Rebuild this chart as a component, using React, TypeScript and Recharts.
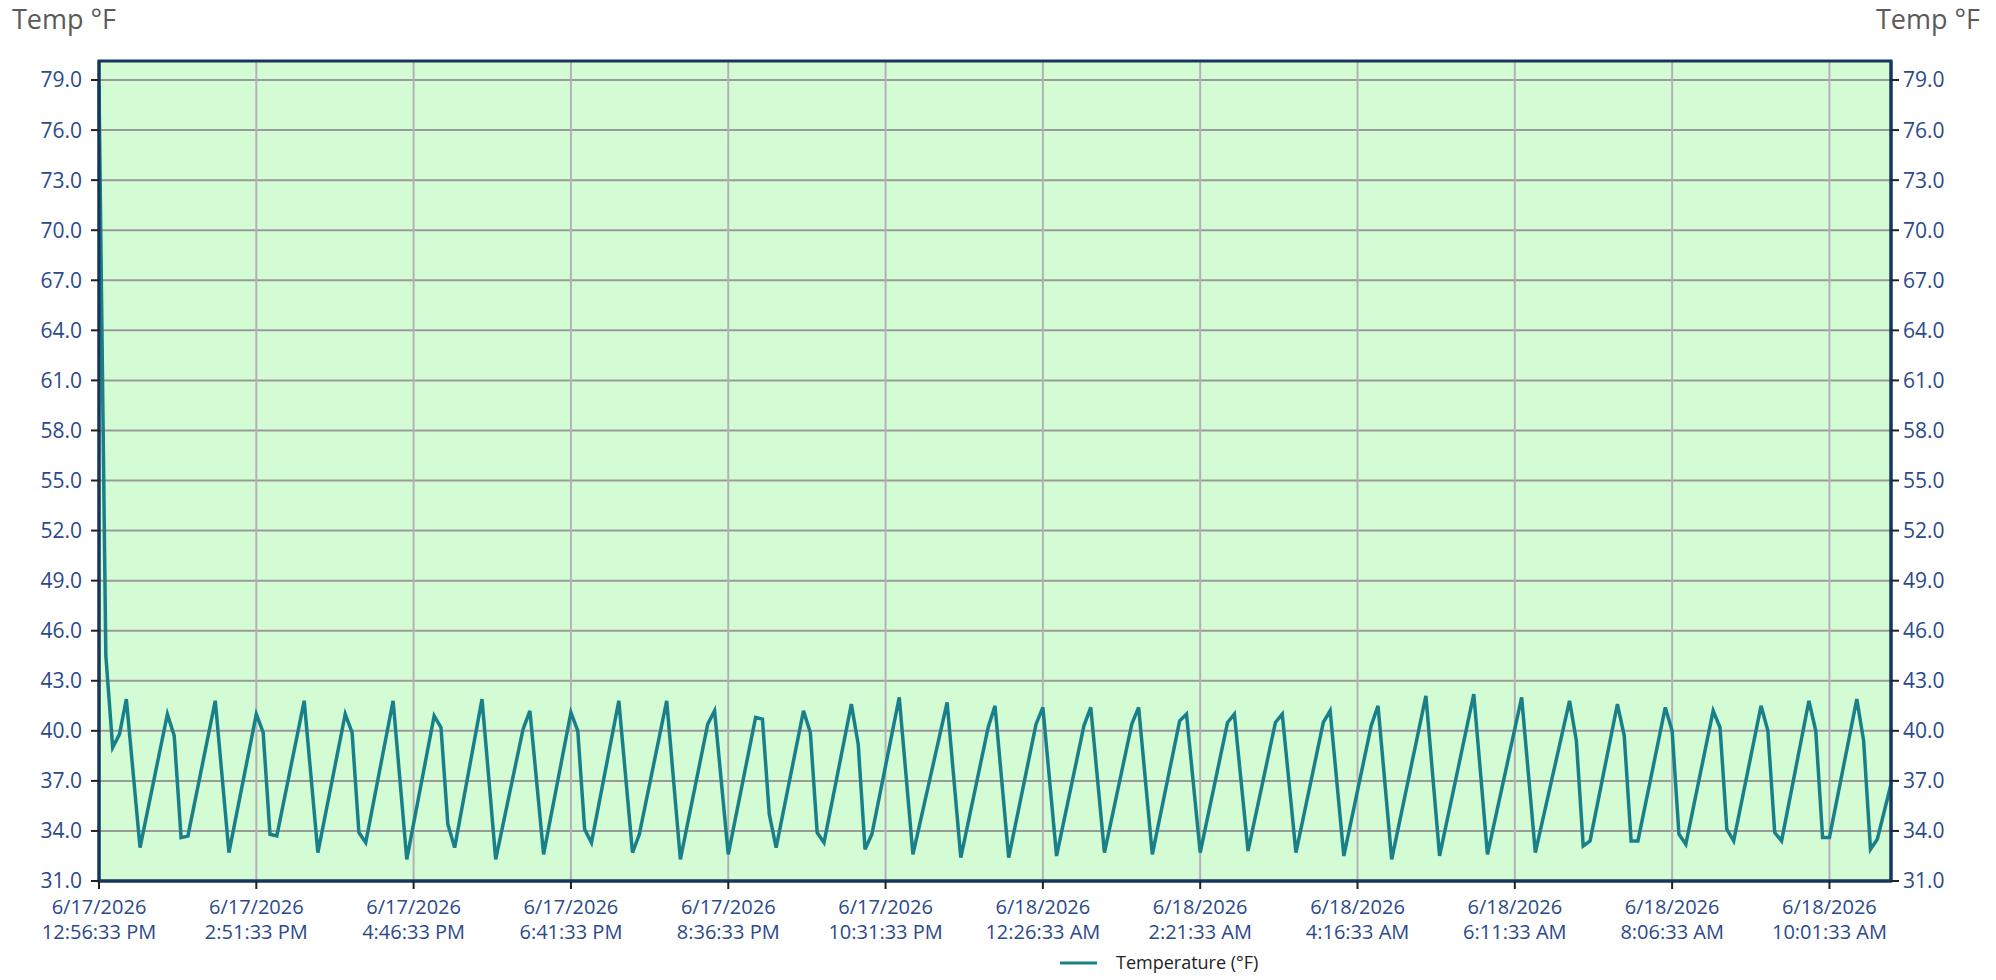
import React from "react";
import {
  LineChart,
  Line,
  XAxis,
  YAxis,
  CartesianGrid,
  ReferenceArea,
  Legend,
} from "recharts";

// minutes after 6/17/2026 12:56:33 PM, read at the line's corners
const minutes = [
  0, 5, 10, 15, 20, 30, 50, 55, 60, 65, 85, 95, 115, 120, 125, 130, 150, 160,
  180, 185, 190, 195, 215, 225, 245, 250, 255, 260, 280, 290, 310, 315, 325,
  345, 350, 355, 360, 380, 390, 395, 415, 425, 445, 450, 460, 480, 485, 490,
  495, 515, 520, 525, 530, 550, 555, 560, 565, 585, 595, 620, 630, 650, 655,
  665, 685, 690, 700, 720, 725, 735, 755, 760, 770, 790, 795, 805, 825, 830,
  840, 860, 865, 875, 895, 900, 910, 930, 935, 945, 970, 980, 1005, 1015, 1040,
  1050, 1075, 1080, 1085, 1090, 1110, 1115, 1120, 1125, 1145, 1150, 1155, 1160,
  1180, 1185, 1190, 1195, 1215, 1220, 1225, 1230, 1250, 1255, 1260, 1265, 1285,
  1290, 1295, 1300, 1310,
];

const tempF = [
  78.7, 44.5, 39.0, 39.8, 41.9, 33.0, 41.0, 39.7, 33.6, 33.7, 41.8, 32.7, 41.0,
  39.9, 33.8, 33.7, 41.8, 32.7, 41.0, 39.9, 33.9, 33.3, 41.8, 32.3, 40.9, 40.2,
  34.4, 33.0, 41.9, 32.3, 40.1, 41.2, 32.6, 41.1, 40.0, 34.1, 33.3, 41.8, 32.7,
  33.8, 41.8, 32.3, 40.4, 41.2, 32.6, 40.8, 40.7, 35.0, 33.0, 41.2, 39.9, 33.9,
  33.3, 41.6, 39.2, 32.9, 33.8, 42.0, 32.6, 41.7, 32.4, 40.2, 41.5, 32.4, 40.4,
  41.4, 32.5, 40.3, 41.4, 32.7, 40.4, 41.4, 32.6, 40.6, 41.0, 32.7, 40.5, 41.0,
  32.8, 40.5, 41.0, 32.7, 40.5, 41.2, 32.5, 40.3, 41.5, 32.3, 42.1, 32.5, 42.2,
  32.6, 42.0, 32.7, 41.8, 39.4, 33.1, 33.4, 41.6, 39.7, 33.4, 33.4, 41.4, 40.0,
  33.8, 33.2, 41.2, 40.2, 34.1, 33.4, 41.5, 40.0, 33.9, 33.4, 41.8, 40.0, 33.6,
  33.6, 41.9, 39.4, 32.9, 33.5, 36.8,
];

const tickMinutes = [0, 115, 230, 345, 460, 575, 690, 805, 920, 1035, 1150, 1265];
const tickDates = [
  "6/17/2026", "6/17/2026", "6/17/2026", "6/17/2026", "6/17/2026", "6/17/2026",
  "6/18/2026", "6/18/2026", "6/18/2026", "6/18/2026", "6/18/2026", "6/18/2026",
];
const tickTimes = [
  "12:56:33 PM", "2:51:33 PM", "4:46:33 PM", "6:41:33 PM", "8:36:33 PM",
  "10:31:33 PM", "12:26:33 AM", "2:21:33 AM", "4:16:33 AM", "6:11:33 AM",
  "8:06:33 AM", "10:01:33 AM",
];
const yTicks = [31, 34, 37, 40, 43, 46, 49, 52, 55, 58, 61, 64, 67, 70, 73, 76, 79];

const data = minutes.map((t, i) => ({ t, temp: tempF[i] }));

const FONT = "'Segoe UI', 'Open Sans', sans-serif";
const LABEL_BLUE = "#2b4a8b";
const NAVY = "#17365d";
const TEAL = "#19808a";

const TimeTick = (props: any) => {
  const { x, y, payload } = props;
  const i = tickMinutes.indexOf(payload.value);
  return (
    <g transform={`translate(${x},${y})`}>
      <text textAnchor="middle" fill={LABEL_BLUE} fontSize={20} fontFamily={FONT}>
        <tspan x={0} dy={23}>{tickDates[i]}</tspan>
        <tspan x={0} dy={25}>{tickTimes[i]}</tspan>
      </text>
    </g>
  );
};

const LegendContent = () => (
  <div style={{ position: "relative", height: 30, width: 1996 }}>
    <svg width={1996} height={30} style={{ position: "absolute", left: 0, top: 0 }}>
      <line x1={1060} x2={1097} y1={15} y2={15} stroke={TEAL} strokeWidth={3} />
      <text x={1116} y={21} fontSize={18} fontFamily={FONT} fill="#222">
        Temperature (°F)
      </text>
    </svg>
  </div>
);

export default function App() {
  return (
    <div style={{ position: "absolute", left: 0, top: 0, width: 1996, height: 980, background: "#fff" }}>
      <div style={{ position: "absolute", left: 12, top: 0, fontSize: 27, fontFamily: FONT, color: "#5a5a5a" }}>
        Temp °F
      </div>
      <div style={{ position: "absolute", right: 16, top: 0, fontSize: 27, fontFamily: FONT, color: "#5a5a5a" }}>
        Temp °F
      </div>
      <LineChart
        width={1996}
        height={980}
        data={data}
        margin={{ top: 61, right: 0, bottom: 2, left: 0 }}
      >
        <CartesianGrid
          yAxisId="left"
          vertical={false}
          stroke="#9a9a9a"
          strokeWidth={2}
          fill="#d4fcd4"
          fillOpacity={1}
        />
        <CartesianGrid yAxisId="left" horizontal={false} stroke="#b2b2b2" strokeWidth={2} />
        <XAxis
          dataKey="t"
          type="number"
          domain={[0, 1310]}
          ticks={tickMinutes}
          interval={0}
          height={67}
          tickSize={8}
          tickMargin={2}
          axisLine={{ stroke: NAVY, strokeWidth: 3 }}
          tickLine={{ stroke: "#222", strokeWidth: 2 }}
          tick={<TimeTick />}
        />
        <YAxis
          yAxisId="left"
          type="number"
          domain={[31, 80.14]}
          ticks={yTicks}
          allowDataOverflow
          width={99}
          tickSize={8}
          tickMargin={9}
          tickFormatter={(v: number) => v.toFixed(1)}
          axisLine={{ stroke: NAVY, strokeWidth: 3 }}
          tickLine={{ stroke: "#222", strokeWidth: 2 }}
          tick={{ fill: LABEL_BLUE, fontSize: 21, fontFamily: FONT }}
        />
        <YAxis
          yAxisId="right"
          orientation="right"
          type="number"
          domain={[31, 80.14]}
          ticks={yTicks}
          allowDataOverflow
          width={105}
          tickSize={8}
          tickMargin={4}
          tickFormatter={(v: number) => v.toFixed(1)}
          axisLine={{ stroke: NAVY, strokeWidth: 3 }}
          tickLine={{ stroke: "#222", strokeWidth: 2 }}
          tick={{ fill: LABEL_BLUE, fontSize: 21, fontFamily: FONT, textAnchor: "start" }}
        />
        <ReferenceArea
          yAxisId="left"
          x1={0}
          x2={1310}
          y1={31}
          y2={80.14}
          stroke={NAVY}
          strokeWidth={3}
          fill="none"
          fillOpacity={0}
          ifOverflow="visible"
        />
        <Line
          yAxisId="left"
          type="linear"
          dataKey="temp"
          name="Temperature (°F)"
          stroke={TEAL}
          strokeWidth={3.5}
          dot={false}
          activeDot={false}
          isAnimationActive={false}
        />
        <Legend verticalAlign="bottom" height={30} content={<LegendContent />} />
      </LineChart>
    </div>
  );
}
